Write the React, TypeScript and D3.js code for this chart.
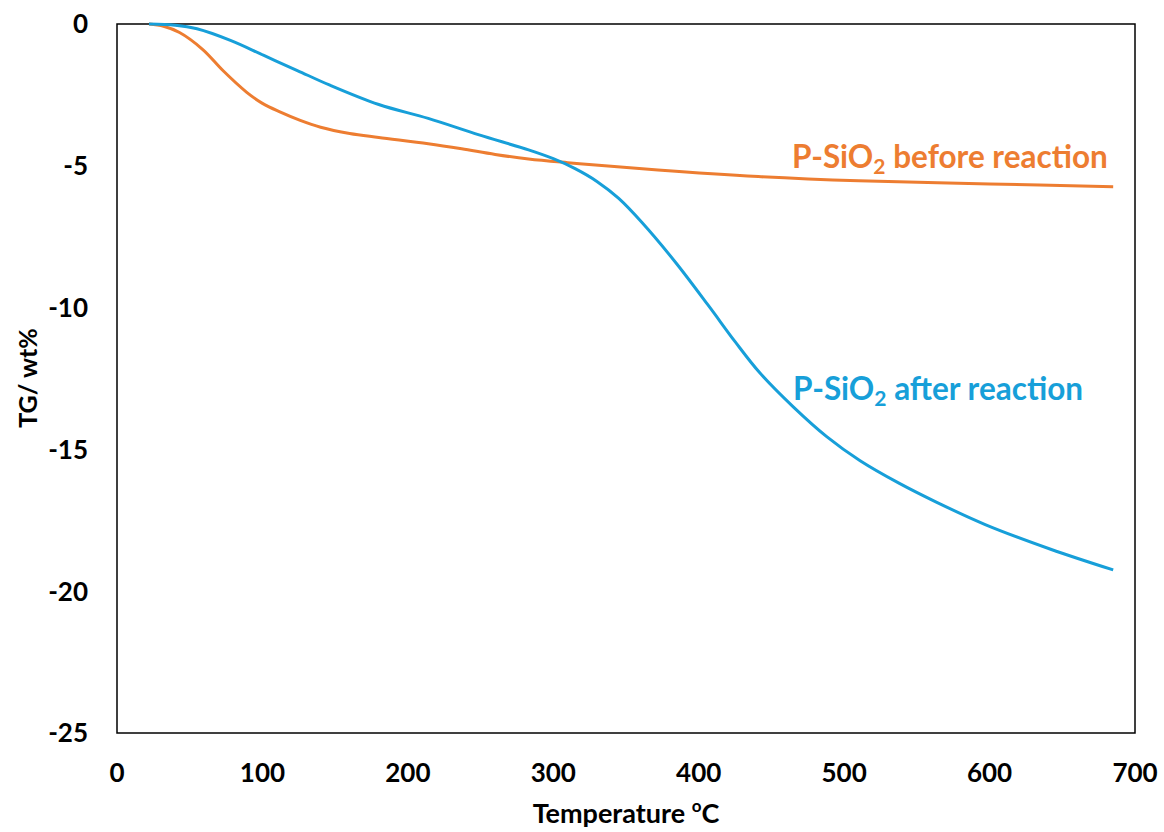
import React from "react";
import * as d3 from "d3";

const xTicks = [0, 100, 200, 300, 400, 500, 600, 700];
const yTicks = [0, -5, -10, -15, -20, -25];

const beforeTemp = [22, 32, 43, 59, 73, 89, 100, 112, 126, 140, 160, 180, 214, 237, 260, 283, 310, 329, 372, 441, 510, 600, 685];
const beforeTG = [0, -0.08, -0.3, -0.9, -1.65, -2.4, -2.8, -3.1, -3.4, -3.64, -3.86, -4.0, -4.22, -4.4, -4.6, -4.76, -4.89, -4.97, -5.15, -5.38, -5.53, -5.64, -5.74];

const afterTemp = [22, 40, 55, 78, 101, 124, 146, 180, 214, 249, 283, 300, 315, 330, 345, 361, 384, 407, 425, 442, 465, 488, 511, 538, 563, 597, 642, 685];
const afterTG = [0, -0.04, -0.17, -0.58, -1.11, -1.64, -2.15, -2.84, -3.33, -3.91, -4.44, -4.75, -5.1, -5.55, -6.15, -7.0, -8.4, -9.95, -11.2, -12.3, -13.5, -14.55, -15.4, -16.2, -16.85, -17.65, -18.52, -19.25];

const ORANGE = "#ED7D31";
const BLUE = "#179FD9";
const FONT = "Lato, 'Open Sans', sans-serif";

export default function App() {
  const W = 1164, H = 832;
  const left = 117, right = 1135, top = 24, bottom = 733;
  const x = d3.scaleLinear().domain([0, 700]).range([left, right]);
  const y = d3.scaleLinear().domain([0, -25]).range([top, bottom]);
  const line = d3
    .line<[number, number]>()
    .x((d) => x(d[0]))
    .y((d) => y(d[1]))
    .curve(d3.curveCatmullRom.alpha(0.5));
  const before = beforeTemp.map((t, i) => [t, beforeTG[i]] as [number, number]);
  const after = afterTemp.map((t, i) => [t, afterTG[i]] as [number, number]);

  return (
    <svg width={W} height={H} style={{ position: "absolute", left: 0, top: 0, background: "#fff" }} fontFamily={FONT} fontWeight={700}>
      <rect x={0} y={0} width={W} height={H} fill="#fff" />
      <rect x={left} y={top} width={right - left} height={bottom - top} fill="none" stroke="#000" strokeWidth={1.5} />
      {yTicks.map((t) => (
        <text key={t} x={88} y={y(t)} dy="0.36em" textAnchor="end" fontSize={26} fill="#000">
          {t}
        </text>
      ))}
      {xTicks.map((t) => (
        <text key={t} x={x(t)} y={782} textAnchor="middle" fontSize={26} fill="#000">
          {t}
        </text>
      ))}
      <text x={626} y={823} textAnchor="middle" fontSize={27} fill="#000">
        Temperature <tspan fontSize={17} dy={-11}>o</tspan><tspan dy={11}>C</tspan>
      </text>
      <text transform={`translate(37,${378}) rotate(-90)`} textAnchor="middle" fontSize={25} fill="#000">
        TG/ wt%
      </text>
      <path d={line(before) || ""} fill="none" stroke={ORANGE} strokeWidth={3} />
      <path d={line(after) || ""} fill="none" stroke={BLUE} strokeWidth={3} />
      <text x={792} y={168} fontSize={31.5} fill={ORANGE}>
        P-SiO<tspan fontSize={21} dy={6}>2</tspan><tspan dy={-6}> before reaction</tspan>
      </text>
      <text x={793} y={400} fontSize={31.5} fill={BLUE}>
        P-SiO<tspan fontSize={21} dy={6}>2</tspan><tspan dy={-6}> after reaction</tspan>
      </text>
    </svg>
  );
}
